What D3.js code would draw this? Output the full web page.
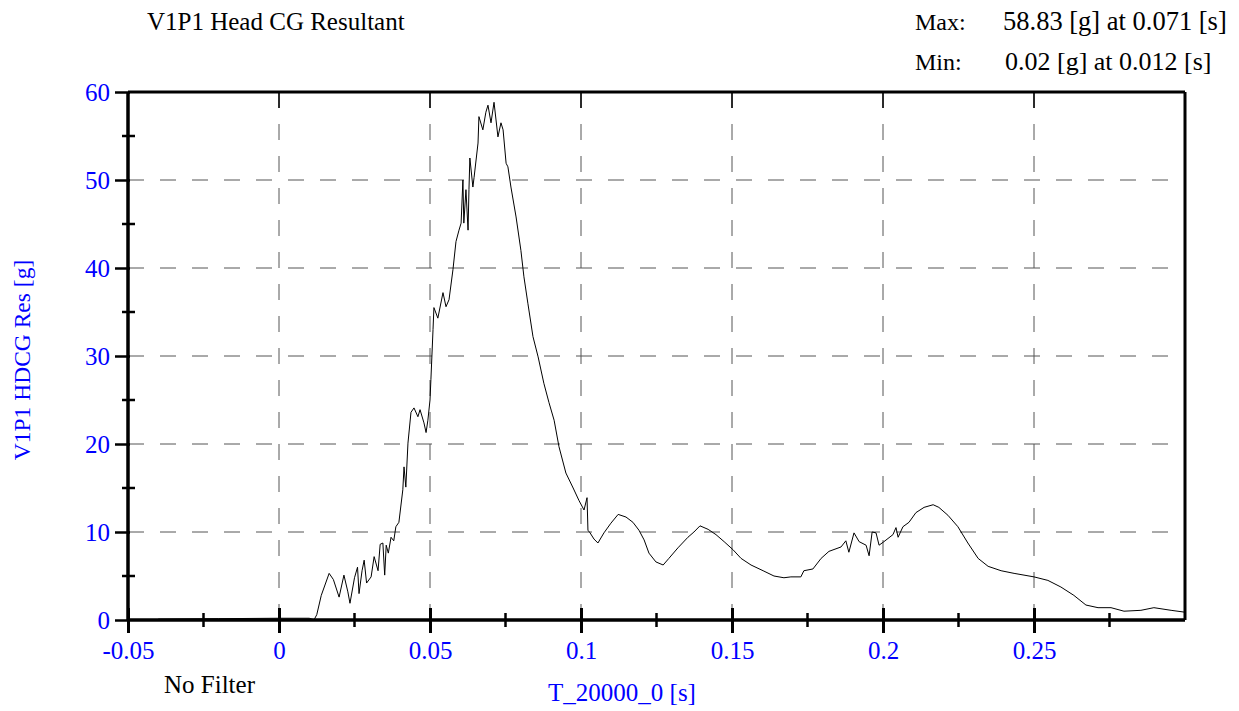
<!DOCTYPE html>
<html>
<head>
<meta charset="utf-8">
<script src="https://cdn.jsdelivr.net/npm/d3@7"></script>
<style>
  body { margin: 0; background: #fff; }
  svg text { font-family: "Liberation Serif", "Times New Roman", serif; }
</style>
</head>
<body>
<svg id="chart" width="1239" height="711"></svg>
<script>
// time [s] and resultant [g]
const times = [
  -0.040, -0.020, 0.000, 0.010, 0.0116, 0.0125, 0.0140, 0.0166, 0.0180, 0.0199, 0.0215, 0.0228, 0.0235,
  0.0250, 0.0260, 0.0265, 0.0275, 0.0282, 0.0290, 0.0305, 0.0315, 0.0328, 0.0335, 0.0344, 0.0350, 0.0355,
  0.0362, 0.0371, 0.0380, 0.0387, 0.0397, 0.0410, 0.0414, 0.0420, 0.0427, 0.0437, 0.0447, 0.0460, 0.0467,
  0.0480, 0.0487, 0.0493, 0.0500, 0.0503, 0.0510, 0.0513, 0.0526, 0.0543, 0.0553, 0.0563, 0.0576, 0.0586,
  0.0596, 0.0603, 0.0609, 0.0612, 0.0619, 0.0626, 0.0629, 0.0632, 0.0642, 0.0646, 0.0659, 0.0662, 0.0675,
  0.0685, 0.0692, 0.0702, 0.0712, 0.0725, 0.0735, 0.0742, 0.0752, 0.0758, 0.0768, 0.0785, 0.0801, 0.0811,
  0.0824, 0.0841, 0.0858, 0.0877, 0.0894, 0.0911, 0.0927, 0.0950, 0.0974, 0.0993, 0.1010, 0.1020, 0.1023,
  0.1030, 0.1043, 0.1056, 0.1076, 0.1099, 0.1123, 0.1149, 0.1172, 0.1192, 0.1209, 0.1225, 0.1248, 0.1272,
  0.1291, 0.1321, 0.1354, 0.1374, 0.1394, 0.1421, 0.1447, 0.1474, 0.1503, 0.1530, 0.1563, 0.1603, 0.1639,
  0.1672, 0.1695, 0.1728, 0.1738, 0.1768, 0.1795, 0.1821, 0.1861, 0.1877, 0.1887, 0.1904, 0.1921, 0.1944,
  0.1954, 0.1964, 0.1977, 0.1987, 0.2003, 0.2033, 0.2043, 0.2050, 0.2066, 0.2086, 0.2109, 0.2136, 0.2166,
  0.2185, 0.2215, 0.2248, 0.2281, 0.2315, 0.2348, 0.2391, 0.2434, 0.2500, 0.2546, 0.2589, 0.2632, 0.2672,
  0.2712, 0.2755, 0.2798, 0.2854, 0.2897, 0.2954, 0.2997
];
const values = [
  0.10, 0.15, 0.20, 0.20, 0.02, 0.60, 2.80, 5.30, 4.60, 2.60, 5.10, 3.20, 1.90,
  4.80, 6.00, 3.00, 5.60, 6.80, 4.20, 4.90, 7.20, 5.60, 8.60, 8.75, 5.10, 8.50,
  7.60, 9.40, 9.00, 10.60, 11.10, 14.80, 17.40, 15.10, 20.10, 23.60, 24.10, 23.10, 23.90,
  22.40, 21.30, 22.70, 25.00, 27.30, 33.00, 35.50, 34.30, 37.20, 35.60, 36.40, 39.80, 43.00,
  44.30, 45.10, 50.00, 45.10, 48.90, 44.30, 48.90, 52.50, 49.20, 50.30, 54.20, 57.20, 55.70,
  57.70, 58.50, 56.50, 58.83, 54.90, 56.50, 55.70, 51.90, 51.50, 49.20, 45.80, 42.00, 39.00,
  36.00, 32.20, 29.90, 26.90, 24.70, 22.70, 19.70, 16.70, 15.00, 13.60, 12.50, 13.90, 10.20,
  9.90, 9.20, 8.75, 9.90, 11.00, 12.00, 11.70, 11.10, 10.20, 9.10, 7.60, 6.60, 6.25,
  7.00, 8.20, 9.40, 10.00, 10.70, 10.30, 9.70, 8.90, 8.00, 7.00, 6.25, 5.60, 5.00,
  4.80, 4.90, 4.90, 5.60, 5.80, 7.00, 7.80, 8.30, 9.00, 7.70, 9.90, 8.90, 8.50,
  7.30, 10.00, 9.90, 8.50, 8.90, 9.70, 10.50, 9.40, 10.60, 11.10, 12.20, 12.80, 13.10,
  12.80, 11.90, 10.60, 8.75, 7.00, 6.10, 5.60, 5.30, 4.90, 4.50, 3.75, 2.80, 1.70,
  1.40, 1.40, 1.00, 1.10, 1.40, 1.10, 0.90
];
const xTicks = [-0.05, 0, 0.05, 0.1, 0.15, 0.2, 0.25];
const xTickLabels = ['-0.05', '0', '0.05', '0.1', '0.15', '0.2', '0.25'];
const xMinorTicks = [-0.025, 0.025, 0.075, 0.125, 0.175, 0.225, 0.275];
const yTicks = [0, 10, 20, 30, 40, 50, 60];
const yMinorTicks = [5, 15, 25, 35, 45, 55];

const margin = {top: 92, left: 128, right: 54, bottom: 91};
const W = 1239, H = 711;
const blue = '#0000ff';
const FS = 25;

const svg = d3.select('#chart');
const x = d3.scaleLinear().domain([-0.05, 0.30]).range([margin.left, W - margin.right]);
const y = d3.scaleLinear().domain([0, 60]).range([H - margin.bottom, margin.top]);

// dashed grid
const grid = svg.append('g').attr('stroke', '#555').attr('stroke-width', 1)
    .attr('stroke-dasharray', '16,16');
grid.selectAll('.vg').data(xTicks.filter(d => d > -0.05))
  .join('line')
    .attr('x1', d => x(d)).attr('x2', d => x(d))
    .attr('y1', y(0)).attr('y2', y(60));
grid.selectAll('.hg').data(yTicks.filter(d => d > 0 && d < 60))
  .join('line')
    .attr('x1', x(-0.05)).attr('x2', x(0.30))
    .attr('y1', d => y(d)).attr('y2', d => y(d));

// the trace
const line = d3.line().x((d, i) => x(times[i])).y(d => y(d));
svg.append('path').datum(values)
    .attr('fill', 'none').attr('stroke', '#000').attr('stroke-width', 1)
    .attr('stroke-linejoin', 'round')
    .attr('d', line);

// frame
const frame = svg.append('g').attr('stroke', '#000').attr('stroke-width', 3);
frame.append('line').attr('x1', x(-0.05)).attr('x2', x(0.30)).attr('y1', y(60)).attr('y2', y(60));
frame.append('line').attr('x1', x(0.30)).attr('x2', x(0.30)).attr('y1', y(60)).attr('y2', y(0));

// top ticks
svg.append('g').attr('stroke', '#000').attr('stroke-width', 1.5)
  .selectAll('line').data(xTicks.filter(d => d > -0.05))
  .join('line')
    .attr('x1', d => x(d)).attr('x2', d => x(d))
    .attr('y1', y(60)).attr('y2', y(60) + 16);

// x axis
const xAxis = svg.append('g').attr('transform', `translate(0,${y(0)})`)
    .call(d3.axisBottom(x).tickValues(xTicks).tickSize(13).tickPadding(8)
      .tickFormat((d, i) => xTickLabels[i]));
xAxis.select('.domain').attr('stroke-width', 3.5).attr('d', `M${x(-0.05)},0H${x(0.30)}`);
xAxis.selectAll('.tick line').attr('stroke-width', 3).attr('y1', -12);
xAxis.selectAll('.tick text').attr('fill', blue).attr('font-size', FS)
    .attr('font-family', '"Liberation Serif", serif');
svg.append('g').attr('stroke', '#000').attr('stroke-width', 2.5)
  .selectAll('line').data(xMinorTicks)
  .join('line')
    .attr('x1', d => x(d)).attr('x2', d => x(d))
    .attr('y1', y(0) - 7).attr('y2', y(0) + 7);

// y axis
const yAxis = svg.append('g').attr('transform', `translate(${x(-0.05)},0)`)
    .call(d3.axisLeft(y).tickValues(yTicks).tickSize(13).tickPadding(5));
yAxis.select('.domain').attr('stroke-width', 3.5).attr('d', `M0,${y(60)}V${y(0)}`);
yAxis.selectAll('.tick line').attr('stroke-width', 2.5).attr('x1', 2);
yAxis.selectAll('.tick text').attr('fill', blue).attr('font-size', FS)
    .attr('font-family', '"Liberation Serif", serif');
svg.append('g').attr('stroke', '#000').attr('stroke-width', 2.5)
  .selectAll('line').data(yMinorTicks)
  .join('line')
    .attr('x1', x(-0.05) - 6).attr('x2', x(-0.05) + 7)
    .attr('y1', d => y(d)).attr('y2', d => y(d));

// texts
svg.append('text').attr('x', 147).attr('y', 30).attr('font-size', FS).text('V1P1 Head CG Resultant');
svg.append('text').attr('x', 915).attr('y', 30).attr('font-size', 24).text('Max:');
svg.append('text').attr('x', 1003).attr('y', 30).attr('font-size', 26.5).text('58.83 [g] at 0.071 [s]');
svg.append('text').attr('x', 915).attr('y', 70).attr('font-size', 24).text('Min:');
svg.append('text').attr('x', 1005).attr('y', 70).attr('font-size', 26).text('0.02 [g] at 0.012 [s]');
svg.append('text').attr('x', 164).attr('y', 693).attr('font-size', FS).text('No Filter');
svg.append('text').attr('x', 622).attr('y', 701).attr('font-size', FS).attr('fill', blue)
    .attr('text-anchor', 'middle').text('T_20000_0 [s]');
svg.append('text').attr('transform', 'translate(30,360) rotate(-90)').attr('font-size', 23.5)
    .attr('fill', blue).attr('text-anchor', 'middle').text('V1P1 HDCG Res [g]');
</script>
</body>
</html>
